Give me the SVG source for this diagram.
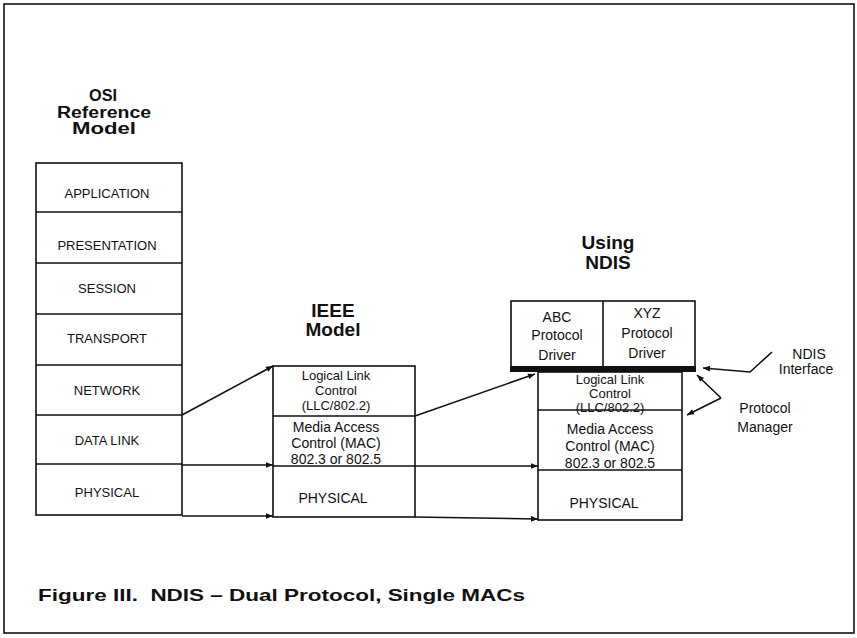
<svg xmlns="http://www.w3.org/2000/svg" width="857" height="638" viewBox="0 0 857 638">
<defs>
<marker id="ah" viewBox="0 0 10 10" refX="10" refY="5" markerWidth="9" markerHeight="7" markerUnits="userSpaceOnUse" orient="auto">
<path d="M0,1 L10,5 L0,9 z" fill="#111"/>
</marker>
<style>
.box{fill:#fff;stroke:#111;stroke-width:1.6}
.ln{fill:none;stroke:#111;stroke-width:1.6}
.lbl{font-family:"Liberation Sans",Arial,sans-serif;font-size:13px;fill:#111;text-anchor:middle}
.in{font-family:"Liberation Sans",Arial,sans-serif;font-size:14px;fill:#111;text-anchor:middle}
.sm{font-family:"Liberation Sans",Arial,sans-serif;font-size:13px;fill:#111;text-anchor:middle}
.ttl{font-family:"Liberation Sans",Arial,sans-serif;font-size:16px;font-weight:bold;fill:#111;text-anchor:middle}
.big{font-family:"Liberation Sans",Arial,sans-serif;font-size:19px;font-weight:bold;fill:#111;text-anchor:middle}
.cap{font-family:"Liberation Sans",Arial,sans-serif;font-size:17px;font-weight:bold;fill:#111}
.conn{fill:none;stroke:#111;stroke-width:1.6;marker-end:url(#ah)}
</style>
</defs>
<rect x="0" y="0" width="857" height="638" fill="#fff"/>
<rect x="4" y="4" width="850" height="629" fill="none" stroke="#111" stroke-width="1.6"/>

<g id="osi">
<text class="ttl" x="103" y="101" textLength="28" lengthAdjust="spacingAndGlyphs">OSI</text>
<text class="ttl" x="104" y="118" textLength="94" lengthAdjust="spacingAndGlyphs">Reference</text>
<text class="ttl" x="104" y="134" textLength="64" lengthAdjust="spacingAndGlyphs">Model</text>
<rect class="box" x="36" y="163" width="146" height="352"/>
<line class="ln" x1="36" y1="212" x2="182" y2="212"/>
<line class="ln" x1="36" y1="263" x2="182" y2="263"/>
<line class="ln" x1="36" y1="314" x2="182" y2="314"/>
<line class="ln" x1="36" y1="365" x2="182" y2="365"/>
<line class="ln" x1="36" y1="415" x2="182" y2="415"/>
<line class="ln" x1="36" y1="464" x2="182" y2="464"/>
<text class="lbl" x="107" y="198">APPLICATION</text>
<text class="lbl" x="107" y="250">PRESENTATION</text>
<text class="lbl" x="107" y="293">SESSION</text>
<text class="lbl" x="107" y="343">TRANSPORT</text>
<text class="lbl" x="107" y="395">NETWORK</text>
<text class="lbl" x="107" y="445">DATA LINK</text>
<text class="lbl" x="107" y="497">PHYSICAL</text>
</g>

<g id="ieee">
<text class="big" x="333" y="317">IEEE</text>
<text class="big" x="333" y="336">Model</text>
<rect class="box" x="273" y="366" width="142" height="151"/>
<line class="ln" x1="273" y1="416" x2="415" y2="416"/>
<line class="ln" x1="273" y1="466" x2="415" y2="466"/>
<text class="sm" x="336" y="380">Logical Link</text>
<text class="sm" x="336" y="395">Control</text>
<text class="sm" x="336" y="410">(LLC/802.2)</text>
<text class="in" x="336" y="432">Media Access</text>
<text class="in" x="336" y="448">Control (MAC)</text>
<text class="in" x="336" y="464">802.3 or 802.5</text>
<text class="in" x="333" y="503">PHYSICAL</text>
</g>

<g id="ndis">
<text class="big" x="608" y="249">Using</text>
<text class="big" x="608" y="269">NDIS</text>
<rect class="box" x="511" y="301" width="184" height="66"/>
<line class="ln" x1="603" y1="301" x2="603" y2="367"/>
<rect x="510" y="366" width="186" height="6" fill="#111"/>
<text class="in" x="557" y="322">ABC</text>
<text class="in" x="557" y="340">Protocol</text>
<text class="in" x="557" y="360">Driver</text>
<text class="in" x="647" y="318">XYZ</text>
<text class="in" x="647" y="338">Protocol</text>
<text class="in" x="647" y="358">Driver</text>
<rect class="box" x="538" y="372" width="144" height="148"/>
<line class="ln" x1="538" y1="410" x2="682" y2="410"/>
<line class="ln" x1="538" y1="470" x2="682" y2="470"/>
<text class="sm" x="610" y="384">Logical Link</text>
<text class="sm" x="610" y="398">Control</text>
<text class="sm" x="610" y="412">(LLC/802.2)</text>
<text class="in" x="610" y="434">Media Access</text>
<text class="in" x="610" y="451">Control (MAC)</text>
<text class="in" x="610" y="468">802.3 or 802.5</text>
<text class="in" x="604" y="508">PHYSICAL</text>
</g>

<g id="ndis-interface-label">
<text class="in" x="809" y="359">NDIS</text>
<text class="in" x="806" y="374">Interface</text>
</g>
<g id="protocol-manager-label">
<text class="in" x="765" y="413">Protocol</text>
<text class="in" x="765" y="432">Manager</text>
</g>

<g id="connectors">
<polyline class="conn" points="182,415 273,366"/>
<line class="conn" x1="182" y1="465" x2="273" y2="465"/>
<line class="conn" x1="415" y1="466" x2="538" y2="466"/>
<line class="conn" x1="182" y1="516" x2="273" y2="516"/>
<line class="conn" x1="415" y1="517" x2="538" y2="519"/>
<line class="conn" x1="415" y1="416" x2="535" y2="374"/>
<polyline class="conn" points="772,352 750,372 703,368"/>
<polyline class="conn" points="721,398 697,375"/>
<polyline class="conn" points="721,398 687,415"/>
</g>

<text class="cap" x="38" y="601" xml:space="preserve" textLength="487" lengthAdjust="spacingAndGlyphs">Figure III.  NDIS – Dual Protocol, Single MACs</text>
</svg>
